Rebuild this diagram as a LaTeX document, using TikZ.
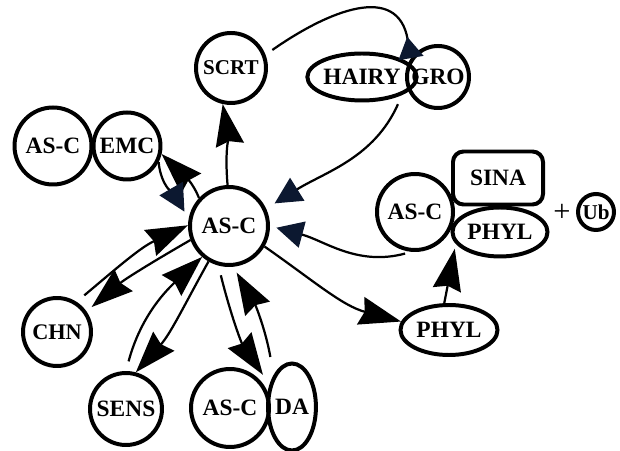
\documentclass[tikz,border=0pt]{standalone}
\usepackage{fontspec}
\setmainfont{Liberation Serif}
\usepackage{tikz}
\usetikzlibrary{arrows.meta,shapes.geometric}
\definecolor{navy}{RGB}{12,24,48}
\tikzstyle{vertex}=[draw,circle,line width=3.4pt,inner sep=0pt,font=\fontsize{20}{20}\selectfont\bfseries]
\tikzstyle{oval}=[vertex,ellipse]
\tikzstyle{box}=[vertex,rectangle,rounded corners=9pt]
\tikzstyle{act}=[line width=1.9pt,-{Stealth[length=1.25cm,width=0.85cm,inset=0.12cm]}]
\tikzstyle{reg}=[line width=1.9pt,-{Triangle[length=0.8cm,width=0.8cm,color=navy]}]
\tikzstyle{regrev}=[line width=1.9pt,-{Triangle[reversed,length=0.65cm,width=0.75cm,color=navy]}]

\begin{document}
\begin{tikzpicture}[x=0.03cm,y=0.03cm]
\useasboundingbox (0,0) rectangle (620,450);
\node [vertex,minimum size=2.34cm] (asc) at (229,224) {AS-C};
\node [vertex,minimum size=2.1cm,font=\fontsize{18}{18}\selectfont\bfseries] (scrt) at (231,382) {SCRT};
\node [vertex,minimum size=2.31cm] (ascL) at (53,304) {AS-C};
\node [vertex,minimum size=2.01cm] (emc) at (127,304) {EMC};
\node [oval,minimum width=2.97cm,minimum height=1.41cm] (hairy) at (362,373) {HAIRY};
\node [vertex,minimum size=1.86cm] (gro) at (438,373) {GRO};
\node [vertex,minimum size=2.28cm] (ascR) at (415,238) {AS-C};
\node [box,minimum width=2.7cm,minimum height=1.59cm] (sina) at (498,272) {SINA};
\node [oval,minimum width=2.85cm,minimum height=1.47cm] (phylR) at (500,218) {PHYL};
\node [font=\fontsize{26}{26}\selectfont] (plus) at (562,237) {+};
\node [vertex,minimum size=1.08cm,font=\fontsize{18}{18}\selectfont\bfseries] (ub) at (596,238) {Ub};
\node [oval,minimum width=2.91cm,minimum height=1.5cm] (phyl) at (449,120) {PHYL};
\node [vertex,minimum size=2.04cm,font=\fontsize{19}{19}\selectfont\bfseries] (chn) at (57,118) {CHN};
\node [vertex,minimum size=2.16cm] (sens) at (126,41) {SENS};
\node [vertex,minimum size=2.34cm] (ascB) at (230,42) {AS-C};
\node [oval,minimum width=1.41cm,minimum height=2.61cm] (da) at (292,43) {DA};

\draw [act] (asc.92) to[out=95,in=-80] (scrt.257);
\draw [act] (asc.137) to[out=112,in=-45] (emc.-13);
\draw [reg,shorten >=0.25cm] (emc.-27) to[out=-85,in=120] (asc.170);
\draw [regrev,shorten <=0.25cm] (scrt.21) to[out=35,in=100,looseness=1.35] (gro.145);
\draw [reg,shorten <=0.3cm,shorten >=0.3cm] (hairy.south east) to[out=-114,in=32] (asc.25);
\draw [reg,shorten <=0.2cm,shorten >=0.2cm] (ascR.265) to[out=195,in=-15] (asc.0);
\draw [act] (asc.-30) to[out=-35,in=165] (phyl.170);
\draw [act,shorten >=0.15cm] (phyl.100) -- (phylR.195);
\draw [act,shorten <=0.3cm] (chn.57) to[out=40,in=205] (asc.179);
\draw [act,shorten >=0.2cm] (asc.200) to[out=210,in=40] (chn.35);
\draw [act,shorten <=0.3cm] (sens.90) to[out=75,in=223] (asc.229);
\draw [act] (asc.240) to[out=-119,in=48] (sens.75);
\draw [act,shorten <=0.3cm,shorten >=0.35cm] (asc.255) to[out=-76,in=124] (da.135);
\draw [act,shorten <=0.55cm,shorten >=0.2cm] (da.120) to[out=100,in=-60] (asc.-84);
\end{tikzpicture}
\end{document}
